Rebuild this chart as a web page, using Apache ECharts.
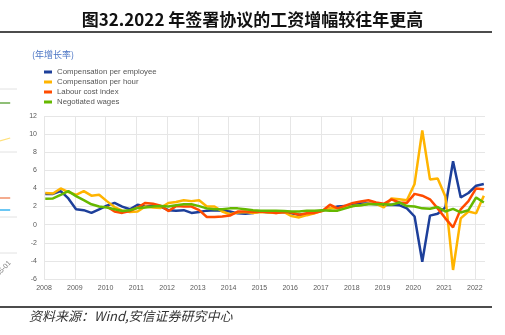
<!DOCTYPE html>
<html><head><meta charset="utf-8">
<script src="https://cdn.jsdelivr.net/npm/echarts@6/dist/echarts.min.js"></script>
<style>html,body{margin:0;padding:0;background:#fff}#c{width:505px;height:335px}</style>
</head><body><div id="c"></div>
<script>
// ---------- data ----------
const titleText = '图32.2022 年签署协议的工资增幅较往年更高';
const unitText = '(年增长率)';
const sourceText = '资料来源：Wind,安信证券研究中心';
const seriesNames = ['Compensation per employee', 'Compensation per hour', 'Labour cost index', 'Negotiated wages'];
const seriesColors = ['#1d3f9a', '#ffb400', '#ff4b00', '#65b800'];
const firstYear = 2008, lastYear = 2022, lastQuarter = 2;
const quarters = [];
for (let y = firstYear; y <= lastYear; y++) for (let q = 1; q <= 4; q++) { if (y === lastYear && q > lastQuarter) break; quarters.push(y + 'Q' + q); }
const yTicks = { min: -6, max: 12, step: 2 };

const compPerEmployee = [3.4,3.4,3.7,2.9, 1.7,1.6,1.3,1.7, 2.1,2.4,2.0,1.7, 2.2,2.0,2.1,2.0,
  1.6,1.55,1.6,1.3, 1.4,1.55,1.6,1.55, 1.45,1.25,1.2,1.3, 1.45,1.35,1.35,1.4,
  1.25,1.1,1.2,1.4, 1.55,1.8,2.0,2.05, 2.25,2.35,2.35,2.25, 2.15,2.2,2.15,1.8,
  0.9,-4.1,1.0,1.2, 1.9,7.0,3.0,3.5, 4.3,4.5];
const compPerHour = [3.5,3.45,4.0,3.6, 3.3,3.7,3.2,3.3, 2.6,1.95,1.55,1.4, 1.45,2.0,1.9,1.85,
  2.4,2.5,2.7,2.6, 2.7,2.0,2.0,1.45, 1.15,1.35,1.4,1.3, 1.4,1.35,1.3,1.4,
  0.95,0.8,1.05,1.25, 1.55,1.8,1.8,1.9, 2.05,2.15,2.3,2.3, 1.9,2.9,2.8,2.7,
  4.5,10.4,5.0,5.1, 3.1,-5.0,0.7,1.45, 1.25,3.2];
const labourCostIndex = [null,null,null,null, null,null,null,null, 2.0,1.45,1.3,1.5, 1.9,2.4,2.3,2.1,
  1.5,2.05,2.0,2.0, 1.6,0.85,0.85,0.9, 1.0,1.45,1.45,1.4, 1.45,1.4,1.3,1.4,
  1.35,1.1,1.25,1.3, 1.5,2.2,1.8,2.1, 2.4,2.55,2.7,2.45, 2.3,2.8,2.45,2.4,
  3.4,3.2,2.8,1.8, 0.7,-0.3,1.7,2.6, 4.0,3.9];
const negotiatedWages = [2.85,2.9,3.3,3.7, 3.15,2.7,2.25,2.0, 1.9,1.7,1.5,1.6, 1.85,1.9,2.0,2.05,
  2.0,2.15,2.25,2.25, 2.05,1.8,1.7,1.7, 1.8,1.8,1.7,1.6, 1.55,1.55,1.55,1.5,
  1.45,1.45,1.55,1.55, 1.6,1.55,1.55,1.8, 2.05,2.15,2.25,2.25, 2.25,2.2,2.45,2.05,
  2.0,1.8,1.75,1.95, 1.45,1.75,1.35,1.6, 3.0,2.45];
const allValues = [compPerEmployee, compPerHour, labourCostIndex, negotiatedWages];

// remnant of a neighbouring chart cut off at the left edge
const remnantColors = ['#6aaa4a', '#ffe07a', '#f0906a', '#3ab4f0'];
const remnantLevels = [[15.7, 15.7], [11.9, 12.2], [6.2, 6.2], [5.0, 5.0]];
const remnantGrayLevels = [17.1, 10.8, 4.3, 0.7];

// ---------- chart ----------
const qToYear = s => { const y = +s.slice(0, 4), q = +s.slice(5); return y + (q - 1) / 4 + 1 / 24; };
const xs = quarters.map(qToYear);
const gridColor = '#e6e6e6';
const chart = echarts.init(document.getElementById('c'), null, { renderer: 'canvas' });

const mainSeries = seriesNames.map((n, k) => ({
  name: n, type: 'line', xAxisIndex: 0, yAxisIndex: 0,
  data: xs.map((x, i) => [x, allValues[k][i]]),
  showSymbol: false, symbol: 'none', connectNulls: false,
  lineStyle: { width: 2.5, color: seriesColors[k] }, itemStyle: { color: seriesColors[k] },
  z: 2 + k
}));
const remSeries = remnantLevels.map((lv, k) => ({
  type: 'line', xAxisIndex: 1, yAxisIndex: 1, symbol: 'none', silent: true,
  data: [[0, lv[0]], [0.6, lv[1]]], lineStyle: { width: 1.3, color: remnantColors[k] }
})).concat(remnantGrayLevels.map(lv => ({
  type: 'line', xAxisIndex: 1, yAxisIndex: 1, symbol: 'none', silent: true,
  data: [[0, lv], [1, lv]], lineStyle: { width: 1, color: '#e2e2e2' }, z: 1
})));

chart.setOption({
  animation: false,
  backgroundColor: '#fff',
  textStyle: { fontFamily: 'Liberation Sans, Arial, sans-serif' },
  grid: [
    { left: 44, right: 20, top: 116, bottom: 56 },
    { left: 0, width: 17, top: 80, height: 180 }
  ],
  xAxis: [
    { type: 'value', gridIndex: 0, min: firstYear, max: 2022.33, interval: 1,
      axisLine: { show: false }, axisTick: { show: false },
      splitLine: { show: true, showMaxLine: false, lineStyle: { color: gridColor, width: 1 } },
      axisLabel: { color: '#5a5a5a', fontSize: 7, margin: 6, showMaxLabel: false,
        formatter: v => Number.isInteger(v) ? String(v) : '' } },
    { type: 'value', gridIndex: 1, min: 0, max: 1, show: false }
  ],
  yAxis: [
    { type: 'value', gridIndex: 0, min: yTicks.min, max: yTicks.max, interval: yTicks.step,
      axisLine: { show: false }, axisTick: { show: false },
      splitLine: { show: true, lineStyle: { color: gridColor, width: 1 } },
      axisLabel: { color: '#5a5a5a', fontSize: 7, margin: 7 } },
    { type: 'value', gridIndex: 1, min: 0, max: 18, show: false }
  ],
  legend: {
    data: seriesNames, orient: 'vertical', left: 44, top: 67, padding: 0,
    icon: 'rect', itemWidth: 8, itemHeight: 3, itemGap: 0,
    textStyle: { fontSize: 7.8, color: '#555', lineHeight: 10, fontFamily: 'Liberation Sans, Arial, sans-serif' }
  },
  graphic: [
    { type: 'text', left: 'center', top: 11, style: { text: titleText, font: 'bold 17px "Noto Sans CJK SC", sans-serif', fill: '#111' } },
    { type: 'line', shape: { x1: 0, y1: 32, x2: 492, y2: 32 }, style: { stroke: '#111', lineWidth: 1.3 } },
    { type: 'text', x: 32, y: 55, style: { text: unitText, font: '9px "Noto Sans CJK SC", sans-serif', fill: '#4a74c4', verticalAlign: 'middle' } },
    { type: 'line', shape: { x1: 0, y1: 307, x2: 492, y2: 307 }, style: { stroke: '#111', lineWidth: 1.3 } },
    { type: 'text', x: 29, y: 316, style: { text: sourceText, font: 'italic 13px "Noto Sans CJK SC", sans-serif', fill: '#333', verticalAlign: 'middle' } },
    { type: 'text', x: 10, y: 262, rotation: Math.PI / 4, style: { text: '05-01', font: '7px "Liberation Sans", sans-serif', fill: '#777', align: 'right', verticalAlign: 'middle' } }
  ],
  series: mainSeries.concat(remSeries)
});
</script>
</body></html>
